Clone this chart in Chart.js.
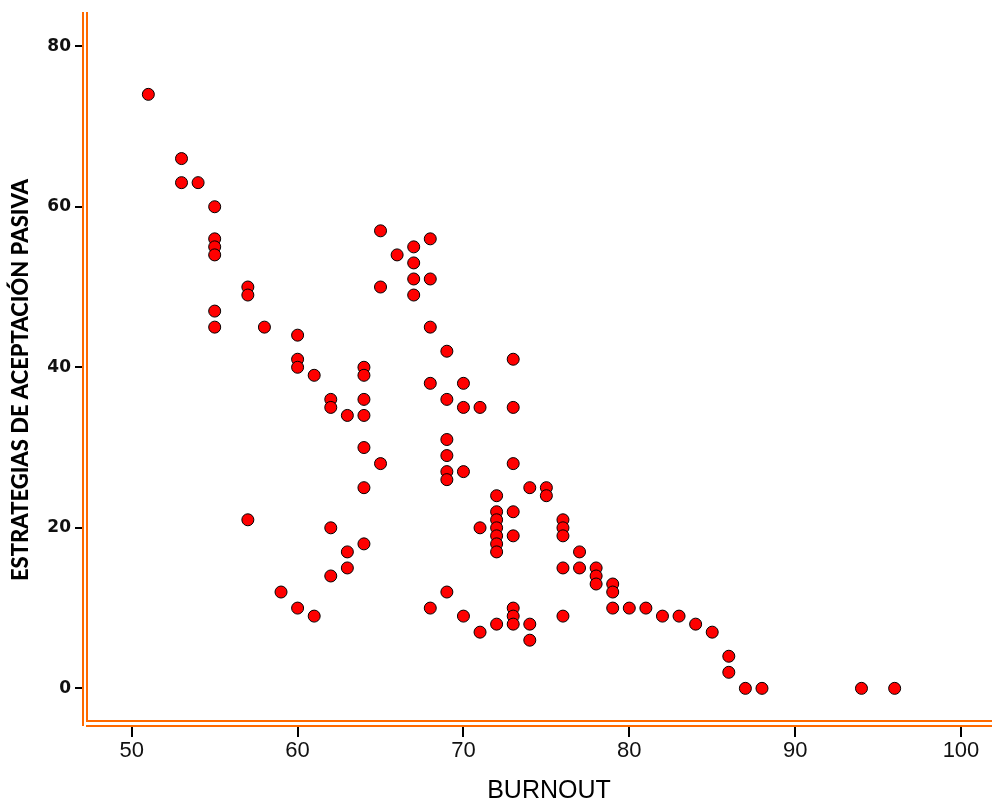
<!DOCTYPE html>
<html>
<head>
<meta charset="utf-8">
<script src="https://cdn.jsdelivr.net/npm/chart.js@4.4.1/dist/chart.umd.min.js"></script>
<style>
    html, body { margin: 0; padding: 0; background: #fff; }
    #wrap { width: 992px; height: 802px; position: relative; }
</style>
</head>
<body>
<div id="wrap"><canvas id="scatter"></canvas></div>
<script>
// Data
const burnout = [
    51, 53, 53, 54,
    55, 55, 55, 55, 55, 55,
    57, 57, 57, 58, 59,
    60, 60, 60, 60, 61, 61,
    62, 62, 62, 62, 63, 63, 63,
    64, 64, 64, 64, 64, 64, 64,
    65, 65, 65, 66, 67, 67, 67, 67,
    68, 68, 68, 68, 68,
    69, 69, 69, 69, 69, 69, 69,
    70, 70, 70, 70, 71, 71, 71,
    72, 72, 72, 72, 72, 72, 72, 72,
    73, 73, 73, 73, 73, 73, 73, 73,
    74, 74, 74, 75, 75,
    76, 76, 76, 76, 76, 77, 77,
    78, 78, 78, 79, 79, 79,
    80, 81, 82, 83, 84, 85, 86, 86,
    87, 88, 94, 96
];
const pasiva = [
    74, 66, 63, 63,
    60, 56, 55, 54, 47, 45,
    50, 49, 21, 45, 12,
    44, 41, 40, 10, 39, 9,
    36, 35, 20, 14, 34, 17, 15,
    40, 39, 36, 34, 30, 25, 18,
    57, 50, 28, 54, 55, 53, 51, 49,
    56, 51, 45, 38, 10,
    42, 36, 31, 29, 27, 26, 12,
    38, 35, 27, 9, 35, 20, 7,
    24, 22, 21, 20, 19, 18, 17, 8,
    41, 35, 28, 22, 19, 10, 9, 8,
    25, 8, 6, 25, 24,
    21, 20, 19, 15, 9, 17, 15,
    15, 14, 13, 13, 12, 10,
    10, 10, 9, 9, 8, 7, 4, 2,
    0, 0, 0, 0
];
const xTicks = [50, 60, 70, 80, 90, 100];
const yTicks = [0, 20, 40, 60, 80];
const xTitle = 'BURNOUT';
const yTitle = 'ESTRATEGIAS DE ACEPTACIÓN PASIVA';

const ORANGE = '#ff6a00';

// Double orange axis lines + axis titles
const axisFrame = {
    id: 'axisFrame',
    afterDraw(chart) {
        const { ctx, chartArea } = chart;
        const { left, top, bottom } = chartArea;
        const right = chart.width;
        ctx.save();
        ctx.strokeStyle = ORANGE;
        ctx.lineWidth = 2;
        ctx.beginPath();
        // outer left
        ctx.moveTo(left, top);
        ctx.lineTo(left, bottom);
        // inner left
        ctx.moveTo(left + 4, top);
        ctx.lineTo(left + 4, bottom - 4);
        // inner bottom
        ctx.moveTo(left + 3, bottom - 5);
        ctx.lineTo(right, bottom - 5);
        // outer bottom
        ctx.moveTo(left + 3, bottom);
        ctx.lineTo(right, bottom);
        ctx.stroke();

        ctx.fillStyle = '#000';
        ctx.font = '25px "Liberation Sans", Arial, sans-serif';
        ctx.textAlign = 'center';
        ctx.textBaseline = 'alphabetic';
        ctx.fillText(xTitle, 549, 798);

        ctx.translate(28, 380);
        ctx.rotate(-Math.PI / 2);
        ctx.font = '900 22px Lato, "Open Sans", sans-serif';
        ctx.fillText(yTitle, 0, 0);
        ctx.restore();
    }
};

// Initialize Chart
document.addEventListener('DOMContentLoaded', () => {
    const ctx = document.getElementById('scatter').getContext('2d');
    new Chart(ctx, {
        type: 'scatter',
        data: {
            datasets: [{
                data: burnout.map((b, i) => ({ x: b, y: pasiva[i] })),
                backgroundColor: '#ff0000',
                borderColor: '#000000',
                borderWidth: 1,
                pointRadius: 6,
                pointHoverRadius: 6,
            }],
        },
        options: {
            responsive: true,
            maintainAspectRatio: false,
            animation: false,
            layout: {
                autoPadding: false,
                padding: { top: 12, right: 0, left: 0, bottom: 0 },
            },
            plugins: {
                legend: { display: false },
                tooltip: { enabled: false },
            },
            scales: {
                x: {
                    type: 'linear',
                    min: 47.06,
                    max: 101.87,
                    afterFit: scale => {
                        scale.height = 76;
                        scale.paddingLeft = 0;
                        scale.paddingRight = 0;
                    },
                    afterBuildTicks: scale => { scale.ticks = xTicks.map(v => ({ value: v })); },
                    border: { display: false },
                    grid: {
                        drawOnChartArea: false,
                        drawTicks: true,
                        tickLength: 11,
                        color: '#000',
                        lineWidth: 2,
                    },
                    ticks: {
                        color: '#111',
                        padding: 1,
                        font: { family: '"Liberation Sans", Arial, sans-serif', size: 22 },
                    },
                },
                y: {
                    type: 'linear',
                    min: -4.69,
                    max: 84.26,
                    afterFit: scale => {
                        scale.width = 83;
                        scale.paddingTop = 0;
                        scale.paddingBottom = 0;
                    },
                    afterBuildTicks: scale => { scale.ticks = yTicks.map(v => ({ value: v })); },
                    border: { display: false },
                    grid: {
                        drawOnChartArea: false,
                        drawTicks: true,
                        tickLength: 8,
                        color: '#000',
                        lineWidth: 2,
                    },
                    ticks: {
                        color: '#111',
                        padding: 4,
                        font: { family: '"DejaVu Sans", sans-serif', size: 17, weight: 'bold' },
                    },
                },
            },
        },
        plugins: [axisFrame],
    });
});
</script>
</body>
</html>
